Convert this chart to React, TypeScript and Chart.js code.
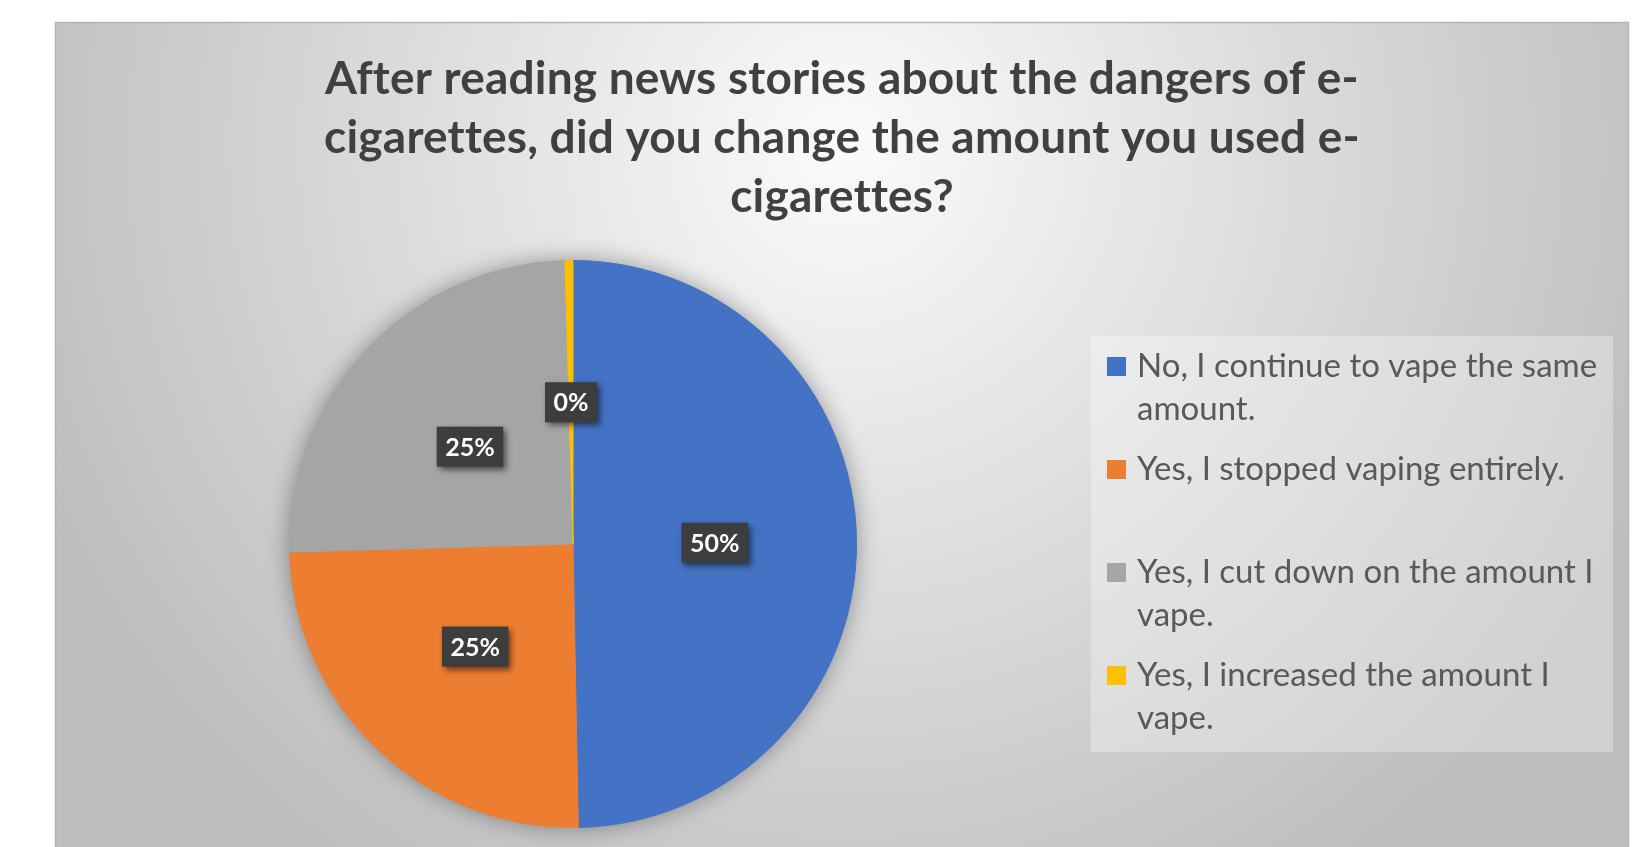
import React, { useEffect, useRef } from 'react';
import { Chart, registerables } from 'chart.js';

Chart.register(...registerables);

// ---- data ----
const categories = [
  'No, I continue to vape the same amount.',
  'Yes, I stopped vaping entirely.',
  'Yes, I cut down on the amount I vape.',
  'Yes, I increased the amount I vape.',
];
const shares = [49.7, 24.85, 25.0, 0.45];
const sliceColors = ['#4472C4', '#ED7D31', '#A5A5A5', '#FFC000'];
const titleLines = [
  'After reading news stories about the dangers of e-',
  'cigarettes, did you change the amount you used e-',
  'cigarettes?',
];

// ---- layout / style ----
const W = 1649;
const H = 847;
const FONT = 'Lato, "Open Sans", sans-serif';
const BOX = { x: 55, y: 22, w: 1574 };

function wrapText(ctx: CanvasRenderingContext2D, text: string, maxW: number): string[] {
  const words = text.split(' ');
  const lines: string[] = [];
  let cur = '';
  for (const w of words) {
    const t = cur ? cur + ' ' + w : w;
    if (ctx.measureText(t).width > maxW && cur) {
      lines.push(cur);
      cur = w;
    } else cur = t;
  }
  if (cur) lines.push(cur);
  return lines;
}

const backgroundPlugin = {
  id: 'bgTitleLegend',
  beforeDraw(chart: any) {
    const ctx: any = chart.ctx;
    ctx.save();
    ctx.fillStyle = '#ffffff';
    ctx.fillRect(0, 0, W, H);
    const bh = H - BOX.y + 2;
    const g = ctx.createRadialGradient(845, 150, 0, 845, 150, 880);
    g.addColorStop(0, '#fbfbfb');
    g.addColorStop(1, '#bdbdbd');
    ctx.fillStyle = g;
    ctx.fillRect(BOX.x, BOX.y, BOX.w, bh);
    ctx.strokeStyle = '#b5b5b5';
    ctx.lineWidth = 1.5;
    ctx.strokeRect(BOX.x + 0.5, BOX.y + 0.5, BOX.w - 1, bh);

    // title
    ctx.fillStyle = '#404040';
    ctx.font = `bold 46px ${FONT}`;
    ctx.letterSpacing = '0.2px';
    ctx.textAlign = 'center';
    ctx.textBaseline = 'alphabetic';
    titleLines.forEach((l: string, i: number) => ctx.fillText(l, 842, 94 + i * 59));

    // legend
    ctx.letterSpacing = '0px';
    ctx.fillStyle = 'rgba(255,255,255,0.3)';
    ctx.fillRect(1091, 336, 522, 416);
    ctx.font = `33px ${FONT}`;
    ctx.textAlign = 'left';
    const labels: string[] = chart.data.labels;
    const colors: string[] = chart.data.datasets[0].backgroundColor;
    labels.forEach((lab, i) => {
      const base = 377 + 103 * i;
      ctx.fillStyle = colors[i];
      ctx.fillRect(1107, base - 20, 19, 19);
      ctx.fillStyle = '#595959';
      wrapText(ctx, lab, 470).forEach((ln, j) => ctx.fillText(ln, 1137, base + 43 * j));
    });
    ctx.restore();
  },
};

const shadowPlugin = {
  id: 'pieShadow',
  beforeDatasetsDraw(chart: any) {
    const ctx: CanvasRenderingContext2D = chart.ctx;
    const arc = chart.getDatasetMeta(0).data[0];
    if (!arc) return;
    const { x, y, outerRadius } = arc.getProps(['x', 'y', 'outerRadius'], true);
    ctx.save();
    ctx.shadowColor = 'rgba(0,0,0,0.4)';
    ctx.shadowBlur = 24;
    ctx.fillStyle = '#8a8a8a';
    ctx.beginPath();
    ctx.arc(x, y, outerRadius - 1, 0, Math.PI * 2);
    ctx.fill();
    ctx.restore();
  },
};

const labelPlugin = {
  id: 'pctLabels',
  afterDatasetsDraw(chart: any) {
    const ctx: CanvasRenderingContext2D = chart.ctx;
    const data: number[] = chart.data.datasets[0].data;
    const total = data.reduce((a, b) => a + b, 0);
    chart.getDatasetMeta(0).data.forEach((arc: any, i: number) => {
      const p = arc.tooltipPosition(true);
      const text = Math.round((data[i] / total) * 100) + '%';
      ctx.save();
      ctx.font = `bold 25px ${FONT}`;
      const tw = ctx.measureText(text).width;
      const bw = tw + 17;
      const bh = 40;
      const x0 = p.x - bw / 2;
      const y0 = p.y - bh / 2;
      ctx.shadowColor = 'rgba(0,0,0,0.55)';
      ctx.shadowBlur = 6;
      ctx.shadowOffsetX = 3;
      ctx.shadowOffsetY = 3;
      ctx.fillStyle = '#3d3d3d';
      ctx.fillRect(x0, y0, bw, bh);
      ctx.restore();
      ctx.save();
      ctx.fillStyle = 'rgba(255,255,255,0.09)';
      for (let yy = y0 + 3; yy < y0 + bh - 1; yy += 6)
        for (let xx = x0 + 3; xx < x0 + bw - 1; xx += 6) ctx.fillRect(xx, yy, 1, 1);
      ctx.fillStyle = '#ffffff';
      ctx.font = `bold 25px ${FONT}`;
      ctx.textAlign = 'center';
      ctx.textBaseline = 'middle';
      ctx.fillText(text, p.x, p.y + 1);
      ctx.restore();
    });
  },
};

export default function App() {
  const ref = useRef<HTMLCanvasElement>(null);
  useEffect(() => {
    const chart = new Chart(ref.current as HTMLCanvasElement, {
      type: 'pie',
      data: {
        labels: categories,
        datasets: [
          {
            data: shares,
            backgroundColor: sliceColors,
            borderColor: sliceColors,
            borderWidth: 1,
          },
        ],
      },
      options: {
        responsive: false,
        animation: false,
        devicePixelRatio: 1,
        events: [],
        layout: { padding: { left: 289, right: 792, top: 260, bottom: 19 } },
        plugins: {
          legend: { display: false },
          tooltip: { enabled: false },
          title: { display: false },
        },
      },
      plugins: [backgroundPlugin, shadowPlugin, labelPlugin],
    } as any);
    return () => chart.destroy();
  }, []);
  return (
    <div style={{ position: 'fixed', left: 0, top: 0, width: W, height: H }}>
      <canvas ref={ref} width={W} height={H} style={{ display: 'block' }} />
    </div>
  );
}
